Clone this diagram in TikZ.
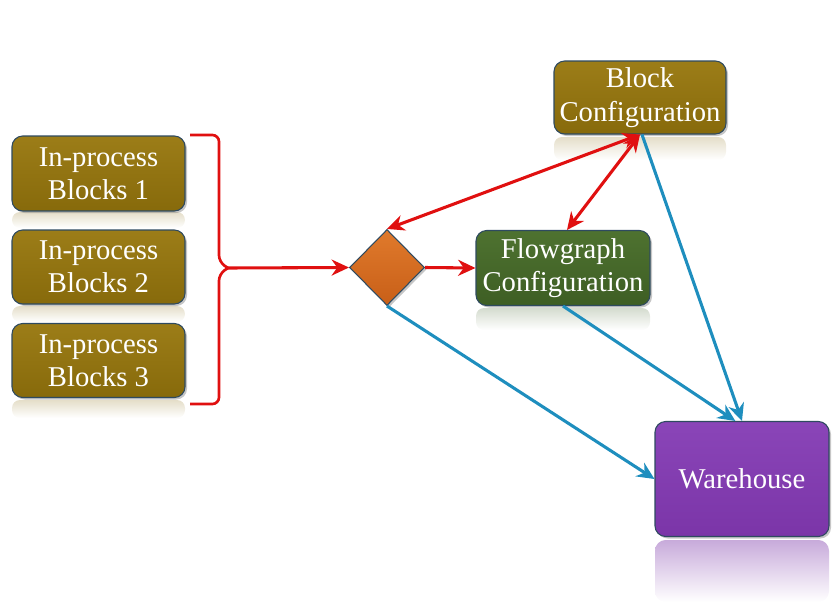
\documentclass[tikz,border=0pt]{standalone}
\usepackage{fontspec}
\setmainfont{Liberation Serif}
\usetikzlibrary{shapes.geometric,arrows.meta,shadows}
\definecolor{olivebox}{HTML}{876A0B}
\definecolor{olivetop}{HTML}{9C7D18}
\definecolor{greenbox}{HTML}{3E5E24}
\definecolor{greentop}{HTML}{4E7230}
\definecolor{purplebox}{HTML}{7B35A8}
\definecolor{purpletop}{HTML}{8A45B8}
\definecolor{orangebox}{HTML}{C85F18}
\definecolor{orangetop}{HTML}{E07A2C}
\definecolor{redline}{HTML}{E01010}
\definecolor{blueline}{HTML}{1E8EBE}
\definecolor{edgecol}{HTML}{2E4A60}
\tikzset{
  box/.style={rectangle, rounded corners=8pt, draw=edgecol, line width=0.8pt,
    text=white, align=center, font=\fontsize{21.5}{25}\selectfont,
    drop shadow={opacity=0.45, shadow xshift=1.5pt, shadow yshift=-1.5pt}},
  olivebox/.style={box, top color=olivetop, bottom color=olivebox},
  greenbox/.style={box, top color=greentop, bottom color=greenbox},
  purplebox/.style={box, top color=purpletop, bottom color=purplebox},
  redarrow/.style={draw=redline, line width=2.3pt, -{Stealth[length=13pt,width=12pt]}},
  redboth/.style={draw=redline, line width=2.3pt, {Stealth[length=13pt,width=12pt]}-{Stealth[length=13pt,width=12pt]}},
  bluearrow/.style={draw=blueline, line width=2.3pt, -{Stealth[length=13pt,width=12pt]}},
  reflection/.style={top color=#1!22!white, bottom color=white, draw=none},
  strongreflection/.style={top color=#1!42!white, bottom color=white, draw=none}
}
\begin{document}
\begin{tikzpicture}[x=0.75pt,y=-0.75pt]
\useasboundingbox (0,0) rectangle (833,615);
% reflections
\path[reflection=olivebox, rounded corners=6pt] (12,212) rectangle (185,228);
\path[reflection=olivebox, rounded corners=6pt] (12,306) rectangle (185,322);
\path[reflection=olivebox, rounded corners=6pt] (12,400) rectangle (185,418);
\path[reflection=olivebox, rounded corners=6pt] (554,137) rectangle (726,160);
\path[reflection=greenbox, rounded corners=6pt] (476,308) rectangle (650,330);
\path[strongreflection=purplebox, rounded corners=8pt] (655,540) rectangle (829,602);
% nodes
\node[olivebox, minimum width=173*0.75pt, minimum height=75*0.75pt] (b1) at (98.5,173.5) {In-process\\Blocks 1};
\node[olivebox, minimum width=173*0.75pt, minimum height=74*0.75pt] (b2) at (98.5,267) {In-process\\Blocks 2};
\node[olivebox, minimum width=173*0.75pt, minimum height=74*0.75pt] (b3) at (98.5,360.5) {In-process\\Blocks 3};
\node[olivebox, minimum width=172*0.75pt, minimum height=73*0.75pt] (bc) at (640,97.5) {Block\\Configuration};
\node[greenbox, minimum width=174*0.75pt, minimum height=75*0.75pt] (fg) at (563,268) {Flowgraph\\Configuration};
\node[purplebox, minimum width=174*0.75pt, minimum height=115*0.75pt] (wh) at (742,479) {Warehouse};
\node[diamond, draw=edgecol, line width=0.8pt, top color=orangetop, bottom color=orangebox,
  minimum width=75*0.75pt, minimum height=76*0.75pt, inner sep=0pt,
  drop shadow={opacity=0.45, shadow xshift=1.5pt, shadow yshift=-1.5pt}] (dia) at (387,267.5) {};
% brace
\coordinate (bracetip) at (228,268);
\draw[redline, line width=2pt, rounded corners=5pt]
  (190,135) -- (219,135) -- (219,262) -- (bracetip);
\draw[redline, line width=2pt, rounded corners=5pt]
  (190,404) -- (219,404) -- (219,274) -- (bracetip);
% red connectors
\draw[redarrow] (bracetip) -- (dia.west);
\draw[redarrow] (dia.east) -- (fg.west);
\draw[redboth] (bc.south) -- (dia.north);
\draw[redboth] (bc.south) -- ([xshift=3pt]fg.north);
% blue connectors
\draw[bluearrow] ([xshift=1.5pt]bc.south) -- (wh.north);
\draw[bluearrow] (fg.south) -- ([xshift=-5pt]wh.north);
\draw[bluearrow] (dia.south) -- (wh.west);
\end{tikzpicture}
\end{document}
